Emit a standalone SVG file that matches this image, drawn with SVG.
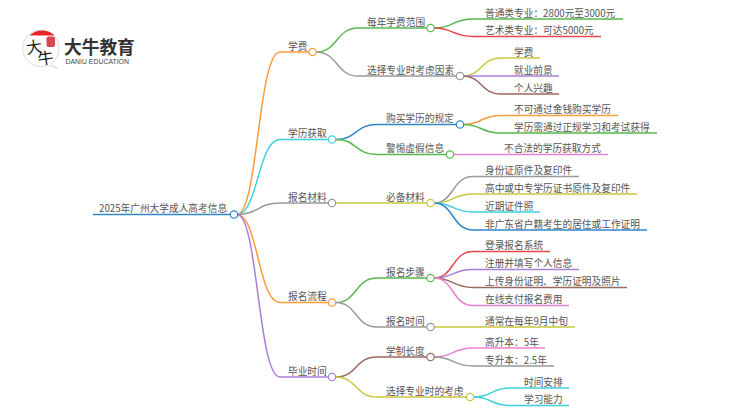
<svg xmlns="http://www.w3.org/2000/svg" width="750" height="410" viewBox="0 0 750 410">
<style>
text{font-family:"Noto Sans CJK SC","Liberation Sans",sans-serif;font-size:9.7px;fill:#555}
#connectors path{fill:none;stroke-width:1.5}
circle.n{fill:#fff;stroke-width:1.2}
.or{stroke:#ff9a3c}.gr{stroke:#55b84f}.gy{stroke:#999}.cy{stroke:#3dd0dc}.bl{stroke:#2f86c8}.ol{stroke:#c9c83f}.pu{stroke:#a97fd8}.br{stroke:#9a6a60}.pk{stroke:#ee7fd0}.re{stroke:#e8474c}
</style>
<rect width="750" height="410" fill="#fff"/>
<g id="logo">
<path d="M51 63.500A18.300 18.300 0 1 0 47 65.500Q53 66 57.500 68.500Q54 66 51 63.500Z" fill="#fff" stroke="#ccc" stroke-width="0.7"/>
<path d="M29.500 35.500A18.300 18.300 0 0 1 54.500 35.500Z" fill="#e8262a"/>
<rect x="46.500" y="36.500" width="8.500" height="10.500" rx="2" fill="#d84a50"/>
<text x="26" y="53" style="font-size:16px;fill:#222" transform="rotate(-8 33 47)">大</text>
<text x="37.500" y="64" style="font-size:16px;fill:#222" transform="rotate(-8 45 57)">牛</text>
<text x="64" y="54" style="font-size:17.700px;font-weight:700;fill:#333">大牛教育</text>
<text x="65.500" y="63.500" style="font-size:6.900px;font-family:'Liberation Sans',sans-serif;fill:#444">DANIU EDUCATION</text>
</g>
<g id="connectors">
<path class="bl" d="M93 214.500H230"/>
<path class="or" d="M237 214.500C258 214.500 258 52 280 52H309"/>
<path class="cy" d="M237 214.500C258 214.500 258 139.500 280 139.500H328"/>
<path class="gy" d="M237 214.500C258 214.500 258 203 280 203H328"/>
<path class="or" d="M237 214.500C258 214.500 258 302.500 280 302.500H328"/>
<path class="pu" d="M237 214.500C258 214.500 258 377 280 377H328"/>
<path class="gr" d="M316 52C338 52 336 28 358 28H427"/>
<path class="gy" d="M316 52C338 52 336 76 358 76H456"/>
<path class="bl" d="M336 139.500C357 139.500 355 124.500 377 124.500H456"/>
<path class="gr" d="M336 139.500C357 139.500 355 154.500 377 154.500H446"/>
<path class="ol" d="M336 203H427"/>
<path class="gr" d="M336 302.500C357 302.500 355 278 377 278H427"/>
<path class="gy" d="M336 302.500C357 302.500 355 327 377 327H427"/>
<path class="br" d="M336 377C357 377 355 357 377 357H427"/>
<path class="ol" d="M336 377C357 377 355 397 377 397H466"/>
<path class="gr" d="M434 28C454 28 452 19 473 19H623"/>
<path class="re" d="M434 28C454 28 452 36.500 473 36.500H601"/>
<path class="ol" d="M463 76C482 76 481 58 500 58H540"/>
<path class="pu" d="M463 76H559"/>
<path class="br" d="M463 76C482 76 481 94 500 94H559"/>
<path class="or" d="M463 124.500C482 124.500 481 115.500 500 115.500H618"/>
<path class="gr" d="M463 124.500C482 124.500 481 133 500 133H657"/>
<path class="pk" d="M453.500 154.500H608"/>
<path class="gy" d="M434 203C454 203 452 176.500 473 176.500H579"/>
<path class="ol" d="M434 203C454 203 452 194 473 194H637"/>
<path class="cy" d="M434 203C454 203 452 212 473 212H540"/>
<path class="bl" d="M434 203C454 203 452 230 473 230H647"/>
<path class="re" d="M434 278C454 278 452 251.500 473 251.500H550"/>
<path class="pu" d="M434 278C454 278 452 269.500 473 269.500H579"/>
<path class="br" d="M434 278C454 278 452 287.500 473 287.500H627"/>
<path class="pk" d="M434 278C454 278 452 305.500 473 305.500H569"/>
<path class="ol" d="M434 327H575"/>
<path class="pk" d="M434 357C454 357 452 348 473 348H545"/>
<path class="gy" d="M434 357C454 357 452 366 473 366H554"/>
<path class="cy" d="M473.500 397C492 397 491 388 510 388H569"/>
<path class="cy" d="M473.500 397C492 397 491 405.500 510 405.500H569"/>
</g>
<g id="root"><text x="99" y="211.500">2025年广州大学成人高考信息</text><circle class="n bl" cx="234" cy="214.500" r="3.700"/></g>
<g id="n1"><text x="288" y="49.500">学费</text><circle class="n or" cx="312.500" cy="52" r="3.700"/></g>
<g id="n2"><text x="288" y="136.500">学历获取</text><circle class="n cy" cx="332" cy="139.500" r="3.700"/></g>
<g id="n3"><text x="288" y="200.500">报名材料</text><circle class="n gy" cx="332" cy="203" r="3.700"/></g>
<g id="n4"><text x="288" y="300">报名流程</text><circle class="n or" cx="332" cy="302.500" r="3.700"/></g>
<g id="n5"><text x="288" y="374.500">毕业时间</text><circle class="n pu" cx="332" cy="377" r="3.700"/></g>
<g id="n11"><text x="367" y="25.500">每年学费范围</text><circle class="n gr" cx="430.500" cy="28" r="3.700"/></g>
<g id="n12"><text x="367" y="73.500">选择专业时考虑因素</text><circle class="n gy" cx="460" cy="76" r="3.700"/></g>
<g id="n21"><text x="386" y="122">购买学历的规定</text><circle class="n bl" cx="460" cy="124.500" r="3.700"/></g>
<g id="n22"><text x="386" y="152">警惕虚假信息</text><circle class="n gr" cx="450" cy="154.500" r="3.700"/></g>
<g id="n31"><text x="386" y="200.500">必备材料</text><circle class="n ol" cx="430.500" cy="203" r="3.700"/></g>
<g id="n41"><text x="386" y="275.500">报名步骤</text><circle class="n gr" cx="430.500" cy="278" r="3.700"/></g>
<g id="n42"><text x="386" y="324.500">报名时间</text><circle class="n gy" cx="430.500" cy="327" r="3.700"/></g>
<g id="n51"><text x="386" y="354.500">学制长度</text><circle class="n br" cx="430.500" cy="357" r="3.700"/></g>
<g id="n52"><text x="386" y="394.500">选择专业时的考虑</text><circle class="n ol" cx="470" cy="397" r="3.700"/></g>
<g id="l1"><text x="485" y="16.500">普通类专业：2800元至3000元</text></g>
<g id="l2"><text x="485" y="34">艺术类专业：可达5000元</text></g>
<g id="l3"><text x="514" y="55.500">学费</text></g>
<g id="l4"><text x="514" y="73.500">就业前景</text></g>
<g id="l5"><text x="514" y="91.500">个人兴趣</text></g>
<g id="l6"><text x="514" y="113">不可通过金钱购买学历</text></g>
<g id="l7"><text x="514" y="130.500">学历需通过正规学习和考试获得</text></g>
<g id="l8"><text x="504" y="152">不合法的学历获取方式</text></g>
<g id="l9"><text x="485" y="174">身份证原件及复印件</text></g>
<g id="l10"><text x="485" y="191.500">高中或中专学历证书原件及复印件</text></g>
<g id="l11"><text x="485" y="209.500">近期证件照</text></g>
<g id="l12"><text x="485" y="227.500">非广东省户籍考生的居住或工作证明</text></g>
<g id="l13"><text x="485" y="249">登录报名系统</text></g>
<g id="l14"><text x="485" y="267">注册并填写个人信息</text></g>
<g id="l15"><text x="485" y="285">上传身份证明、学历证明及照片</text></g>
<g id="l16"><text x="485" y="303">在线支付报名费用</text></g>
<g id="l17"><text x="485" y="324.500">通常在每年9月中旬</text></g>
<g id="l18"><text x="485" y="345.500">高升本：5年</text></g>
<g id="l19"><text x="485" y="363.500">专升本：2.5年</text></g>
<g id="l20"><text x="524" y="385.500">时间安排</text></g>
<g id="l21"><text x="524" y="403">学习能力</text></g>
</svg>
